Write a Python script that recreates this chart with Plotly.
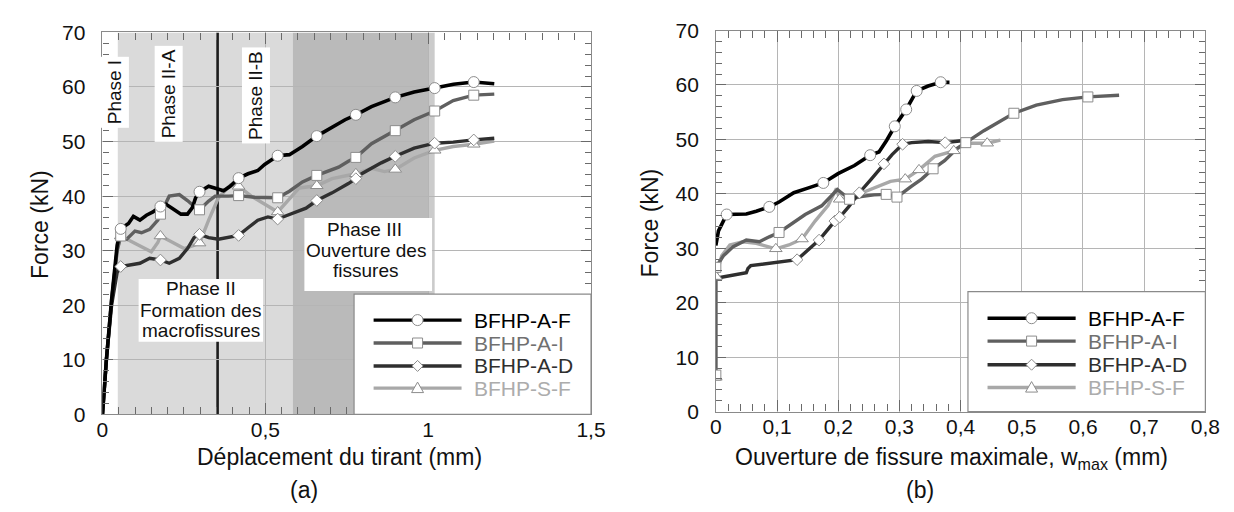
import plotly.graph_objects as go

FONT = "Arial, 'Liberation Sans', sans-serif"
W, H = 1234, 512

SERIES_NAMES = ["BFHP-A-F", "BFHP-A-I", "BFHP-A-D", "BFHP-S-F"]
LINE_COLORS = ["#000000", "#5f5f5f", "#2f2f2f", "#a8a8a8"]
TEXT_COLORS = ["#000000", "#707070", "#2f2f2f", "#acacac"]
SYMBOLS = ["circle", "square", "diamond", "triangle-up"]

# ---------------- (a) Force vs. displacement of the tie ----------------
A_MARKER_X = [0.056, 0.178, 0.298, 0.418, 0.538, 0.658, 0.778, 0.899, 1.020, 1.140]

A_AF_X = [0, 0.012, 0.028, 0.045, 0.056, 0.08, 0.095, 0.115, 0.135, 0.155, 0.178, 0.195,
          0.216, 0.241, 0.261, 0.276, 0.286, 0.298, 0.326, 0.351, 0.372, 0.392, 0.418,
          0.447, 0.477, 0.498, 0.518, 0.538, 0.574, 0.614, 0.658, 0.705, 0.745, 0.778,
          0.826, 0.899, 0.957, 1.020, 1.078, 1.140, 1.203]
A_AF_Y = [0, 10, 21, 31, 34.0, 35.0, 36.3, 35.6, 36.5, 37.1, 38.1, 38.5,
          37.7, 36.7, 36.7, 37.9, 39.7, 40.8, 41.8, 41.4, 41.0, 41.8, 43.3,
          44.1, 44.7, 45.8, 46.7, 47.4, 47.6, 49.1, 51.0, 52.6, 54.0, 54.9,
          56.4, 58.1, 59.1, 59.8, 60.5, 60.9, 60.6]

A_AI_X = [0, 0.012, 0.028, 0.045, 0.056, 0.0745, 0.0997, 0.120, 0.145, 0.170, 0.178,
          0.205, 0.236, 0.261, 0.286, 0.298, 0.326, 0.346, 0.387, 0.418, 0.467, 0.538,
          0.574, 0.614, 0.658, 0.695, 0.725, 0.755, 0.778, 0.826, 0.899, 0.957, 1.020,
          1.077, 1.140, 1.203]
A_AI_Y = [0, 10, 21, 30, 32.7, 32.1, 33.6, 33.3, 33.9, 35.6, 36.7,
          40.0, 40.3, 39.2, 37.9, 37.5, 39.1, 40.0, 40.0, 40.1, 39.8, 39.7,
          40.9, 42.6, 43.8, 44.7, 45.3, 46.4, 47.1, 49.6, 52.0, 54.0, 55.6,
          57.5, 58.5, 58.7]

A_AD_X = [0, 0.012, 0.028, 0.045, 0.056, 0.085, 0.115, 0.145, 0.178, 0.205, 0.236,
          0.261, 0.281, 0.298, 0.326, 0.356, 0.387, 0.418, 0.447, 0.477, 0.508, 0.538,
          0.568, 0.598, 0.625, 0.658, 0.705, 0.755, 0.778, 0.796, 0.856, 0.899, 0.957,
          1.020, 1.077, 1.140, 1.203]
A_AD_Y = [0, 10, 20, 26, 27.1, 27.4, 27.7, 28.6, 28.3, 27.7, 28.6,
          30.4, 32.4, 33.0, 32.4, 32.1, 32.4, 32.8, 34.2, 35.6, 36.2, 35.8,
          36.5, 37.1, 37.8, 39.2, 40.6, 42.3, 43.2, 44.1, 46.1, 47.3, 48.8,
          49.7, 49.9, 50.3, 50.6]

A_SF_X = [0, 0.012, 0.028, 0.045, 0.056, 0.0745, 0.115, 0.150, 0.170, 0.178, 0.216,
          0.251, 0.276, 0.298, 0.326, 0.356, 0.392, 0.418, 0.457, 0.498, 0.538, 0.568,
          0.604, 0.658, 0.705, 0.778, 0.826, 0.866, 0.899, 0.957, 1.020, 1.077, 1.140,
          1.203]
A_SF_Y = [0, 10, 21, 30, 32.7, 32.1, 30.9, 29.8, 31.5, 32.7, 31.5,
          30.4, 30.9, 31.4, 35.6, 39.7, 42.0, 41.8, 40.0, 38.5, 37.1, 39.1,
          41.5, 41.9, 43.2, 44.1, 45.1, 44.5, 44.9, 47.0, 48.4, 49.1, 49.5,
          50.1]

# Phase zones of panel (a) (x limits, mm)
PHASE_I_END = 0.047
PHASE_II_END = 0.584
PHASE_III_END = 1.0
PHASE_III_EDGE = 1.02
PHASE_IIA_IIB = 0.3535

# ---------------- (b) Force vs. maximal crack opening ----------------
B_AF_X = [0, 0.0043, 0.0177, 0.0337, 0.0498, 0.066, 0.0873, 0.1033, 0.1274, 0.1515,
          0.1756, 0.1997, 0.2265, 0.2522, 0.2666, 0.279, 0.2924, 0.3111, 0.3282,
          0.3469, 0.3674, 0.3818]
B_AF_Y = [30.5, 33.2, 36.2, 36.2, 36.3, 36.8, 37.6, 38.5, 40.2, 41.1,
          42.0, 43.7, 45.2, 47.1, 47.7, 49.8, 52.4, 55.5, 58.9,
          59.8, 60.5, 60.5]
B_AF_MK = [2, 6, 10, 13, 16, 17, 18, 20]

B_AI_X = [0, 0, 0.0123, 0.0284, 0.0498, 0.0712, 0.0873, 0.1033, 0.146, 0.1729, 0.1986,
          0.2185, 0.2372, 0.2586, 0.2784, 0.296, 0.320, 0.3363, 0.355, 0.3738, 0.395,
          0.4085, 0.438, 0.487, 0.5237, 0.5666, 0.608, 0.659]
B_AI_Y = [6.7, 26.5, 28.6, 30.3, 31.5, 31.2, 32.1, 32.9, 36.2, 37.8, 40.8,
          39.0, 39.5, 39.8, 39.9, 39.4, 41.4, 42.7, 44.6, 46.1, 48.4,
          49.4, 51.6, 54.8, 56.3, 57.3, 57.8, 58.1]
B_AI_MK = [0, 1, 7, 11, 14, 15, 18, 21, 23, 26]

B_AD_X = [0, 0.0498, 0.0525, 0.057, 0.1328, 0.1687, 0.1944, 0.2024, 0.2169, 0.2345,
          0.2533, 0.2747, 0.288, 0.3052, 0.32, 0.347, 0.3748, 0.398, 0.408]
B_AD_Y = [24.5, 25.5, 26.3, 26.8, 27.9, 31.5, 35.0, 35.7, 37.6, 40.2,
          42.6, 45.5, 47.2, 49.1, 49.4, 49.6, 49.4, 49.7, 49.8]
B_AD_MK = [4, 5, 6, 7, 9, 11, 13, 16]

B_SF_X = [0, 0, 0.0096, 0.0229, 0.0444, 0.066, 0.098, 0.1194, 0.1408, 0.1622, 0.1836,
          0.197, 0.2024, 0.2212, 0.2372, 0.264, 0.2854, 0.3095, 0.332, 0.358, 0.3888,
          0.4087, 0.4434, 0.465]
B_SF_Y = [6.3, 24.8, 28.6, 30.6, 31.2, 30.9, 29.9, 30.6, 31.7, 35.0, 37.9,
          41.0, 39.0, 39.1, 40.1, 41.4, 42.3, 42.7, 44.4, 46.9, 47.9,
          49.3, 49.3, 49.85]
B_SF_MK = [0, 1, 6, 8, 12, 17, 18, 20, 22]

# Axis ticks
A_X_RANGE, A_X_DTICK, A_X_MINOR = [0, 1.5], 0.5, 0.05
B_X_RANGE, B_X_DTICK, B_X_MINOR = [0, 0.8], 0.1, 0.02
Y_RANGE, Y_DTICK, Y_MINOR = [0, 70], 10, 2

LINE_WIDTHS = [3.6, 3.4, 3.4, 3.4]
MARKER_SIZES = [11, 10, 9, 11]

# ------------------------------------------------------------------
fig = go.Figure()

panel_a = [(A_AF_X, A_AF_Y), (A_AI_X, A_AI_Y), (A_AD_X, A_AD_Y), (A_SF_X, A_SF_Y)]
panel_b = [(B_AF_X, B_AF_Y, B_AF_MK), (B_AI_X, B_AI_Y, B_AI_MK),
           (B_AD_X, B_AD_Y, B_AD_MK), (B_SF_X, B_SF_Y, B_SF_MK)]

draw_order = [3, 1, 2, 0]


def add_lines(xs, ys, k, xa, ya):
    fig.add_trace(go.Scatter(
        x=xs, y=ys, mode="lines", name=SERIES_NAMES[k],
        line=dict(color=LINE_COLORS[k], width=LINE_WIDTHS[k]),
        xaxis=xa, yaxis=ya, showlegend=False))


def add_markers(xs, ys, k, xa, ya):
    fig.add_trace(go.Scatter(
        x=xs, y=ys, mode="markers", name=SERIES_NAMES[k],
        marker=dict(symbol=SYMBOLS[k], size=MARKER_SIZES[k], color="white",
                    line=dict(color="#8c8c8c", width=1)),
        xaxis=xa, yaxis=ya, showlegend=False))


for k in draw_order:
    xs, ys = panel_a[k]
    add_lines(xs, ys, k, "x", "y")
for k in draw_order:
    xs, ys = panel_b[k][0], panel_b[k][1]
    add_lines(xs, ys, k, "x2", "y2")
for k in draw_order:
    xs, ys = panel_a[k]
    idx = [i for i, v in enumerate(xs) if v in A_MARKER_X]
    add_markers([xs[i] for i in idx], [ys[i] for i in idx], k, "x", "y")
for k in draw_order:
    xs, ys, mk = panel_b[k]
    add_markers([xs[i] for i in mk], [ys[i] for i in mk], k, "x2", "y2")

# ------------------------------------------------------------------
shapes = []
annotations = []

LIGHT, DARK, EDGE = "#dadada", "#bababa", "#cbcbcb"
for x0, x1, c in [(PHASE_I_END, PHASE_II_END, LIGHT), (PHASE_II_END, PHASE_III_END, DARK),
                  (PHASE_III_END, PHASE_III_EDGE, EDGE)]:
    shapes.append(dict(type="rect", xref="x", yref="y", x0=x0, x1=x1,
                       y0=Y_RANGE[0], y1=Y_RANGE[1],
                       fillcolor=c, line=dict(width=0), layer="below"))
shapes.append(dict(type="line", xref="x", yref="y", x0=PHASE_IIA_IIB, x1=PHASE_IIA_IIB,
                   y0=Y_RANGE[0], y1=Y_RANGE[1], line=dict(color="#1c1c1c", width=2.6),
                   layer="below"))

# white boxes for phase II / phase III descriptions
shapes.append(dict(type="rect", xref="x", yref="y", x0=0.111, x1=0.493, y0=13.3, y1=24.8,
                   fillcolor="white", line=dict(width=0), layer="above"))
shapes.append(dict(type="rect", xref="x", yref="y", x0=0.62, x1=1.012, y0=22.6, y1=36.0,
                   fillcolor="white", line=dict(width=0), layer="above"))

PH_FONT = dict(family=FONT, size=19, color="#111111")
for txt, x, y in [("Phase II", 0.302, 23.0), ("Formation des", 0.302, 19.1),
                  ("macrofissures", 0.302, 15.3),
                  ("Phase III", 0.806, 33.9), ("Ouverture des", 0.808, 30.1),
                  ("fissures", 0.808, 26.3)]:
    annotations.append(dict(xref="x", yref="y", x=x, y=y, text=txt, showarrow=False,
                            font=PH_FONT, xanchor="center", yanchor="middle"))
for txt, x, y in [("Phase I", 0.038, 59.0), ("Phase II-A", 0.202, 58.7),
                  ("Phase II-B", 0.472, 58.4)]:
    annotations.append(dict(xref="x", yref="y", x=x, y=y, text=txt, showarrow=False,
                            textangle=-90, font=PH_FONT, bgcolor="white", borderpad=3,
                            xanchor="center", yanchor="middle"))


# custom legends (long line samples as in the original), in axis-domain coordinates
def legend(xa, ya, rows_y):
    xd, yd = xa + " domain", ya + " domain"
    shapes.append(dict(type="rect", xref=xd, yref=yd, x0=0.515, x1=1.0, y0=0.0, y1=0.315,
                       fillcolor="white", line=dict(color="#8a8a8a", width=1.2), layer="above"))
    for k, yy in enumerate(rows_y):
        shapes.append(dict(type="line", xref=xd, yref=yd, x0=0.555, x1=0.735, y0=yy, y1=yy,
                           line=dict(color=LINE_COLORS[k], width=3.4), layer="above"))
        mk = dict(xref=xd, yref=yd, xsizemode="pixel", ysizemode="pixel",
                  xanchor=0.645, yanchor=yy, fillcolor="white",
                  line=dict(color="#8c8c8c", width=1), layer="above")
        if k == 0:
            mk.update(type="circle", x0=-5.5, x1=5.5, y0=-5.5, y1=5.5)
        elif k == 1:
            mk.update(type="path", path="M-5,-5 L5,-5 L5,5 L-5,5 Z")
        elif k == 2:
            mk.update(type="path", path="M0,5.5 L5.5,0 L0,-5.5 L-5.5,0 Z")
        else:
            mk.update(type="path", path="M0,6 L6,-4.5 L-6,-4.5 Z")
        shapes.append(mk)
        annotations.append(dict(xref=xd, yref=yd, x=0.757, y=yy, text=SERIES_NAMES[k],
                                showarrow=False, xanchor="left", yanchor="middle",
                                font=dict(family=FONT, size=21, color=TEXT_COLORS[k])))


legend("x", "y", [0.247, 0.187, 0.127, 0.069])
legend("x2", "y2", [0.245, 0.185, 0.123, 0.063])

TITLE_FONT = dict(family=FONT, size=23, color="#111111")
annotations += [
    dict(xref="paper", yref="paper", x=27 / W, y=1 - 214 / H, text="Force (kN)",
         textangle=-90, showarrow=False, font=TITLE_FONT, xanchor="center", yanchor="middle"),
    dict(xref="paper", yref="paper", x=648 / W, y=1 - 212 / H, text="Force (kN)",
         textangle=-90, showarrow=False, font=TITLE_FONT, xanchor="center", yanchor="middle"),
    dict(xref="paper", yref="paper", x=331 / W, y=1 - 458 / H,
         text="Déplacement du tirant (mm)", showarrow=False, font=TITLE_FONT,
         xanchor="center", yanchor="middle"),
    dict(xref="paper", yref="paper", x=954 / W, y=1 - 459 / H,
         text="Ouverture de fissure maximale, w<sub>max</sub> (mm)", showarrow=False,
         font=TITLE_FONT, xanchor="center", yanchor="middle"),
    dict(xref="paper", yref="paper", x=295 / W, y=1 - 492 / H, text="(a)", showarrow=False,
         font=TITLE_FONT, xanchor="center", yanchor="middle"),
    dict(xref="paper", yref="paper", x=922 / W, y=1 - 492 / H, text="(b)", showarrow=False,
         font=TITLE_FONT, xanchor="center", yanchor="middle"),
]

TICK_FONT = dict(family=FONT, size=21, color="#111111")


def xaxis(domain, rng, dtick, minor, anchor):
    return dict(domain=domain, range=rng, dtick=dtick, tick0=0, anchor=anchor,
                ticks="inside", ticklen=11, tickwidth=1, tickcolor="#6a6a6a",
                minor=dict(dtick=minor, tick0=0, ticks="inside", ticklen=7, tickwidth=1,
                           tickcolor="#6a6a6a", showgrid=False),
                showgrid=True, gridcolor="#b5b5b5", gridwidth=1, zeroline=False,
                showline=True, linecolor="#8a8a8a", linewidth=1.3, mirror="ticks",
                tickfont=TICK_FONT, ticklabelstandoff=-4)


def yaxis(domain, anchor):
    return dict(domain=domain, range=Y_RANGE, dtick=Y_DTICK, tick0=0, anchor=anchor,
                ticks="inside", ticklen=10, tickwidth=1, tickcolor="#6a6a6a",
                minor=dict(dtick=Y_MINOR, tick0=0, ticks="inside", ticklen=6, tickwidth=1,
                           tickcolor="#6a6a6a", showgrid=False),
                showgrid=True, gridcolor="#b5b5b5", gridwidth=1, zeroline=False,
                showline=True, linecolor="#8a8a8a", linewidth=1.3, mirror="ticks",
                tickfont=TICK_FONT, ticksuffix="\u00a0\u00a0")


fig.update_layout(
    width=W, height=H,
    margin=dict(l=0, r=0, t=0, b=0),
    paper_bgcolor="white", plot_bgcolor="white",
    separators=", ",
    showlegend=False,
    font=dict(family=FONT, color="#111111"),
    xaxis=xaxis([90 / W, 587 / W], A_X_RANGE, A_X_DTICK, A_X_MINOR, "y"),
    yaxis=yaxis([1 - 413 / H, 1 - 13 / H], "x"),
    xaxis2=xaxis([714 / W, 1212 / W], B_X_RANGE, B_X_DTICK, B_X_MINOR, "y2"),
    yaxis2=yaxis([1 - 410 / H, 1 - 11 / H], "x2"),
    shapes=shapes,
    annotations=annotations,
)

fig.write_html("out.html")
